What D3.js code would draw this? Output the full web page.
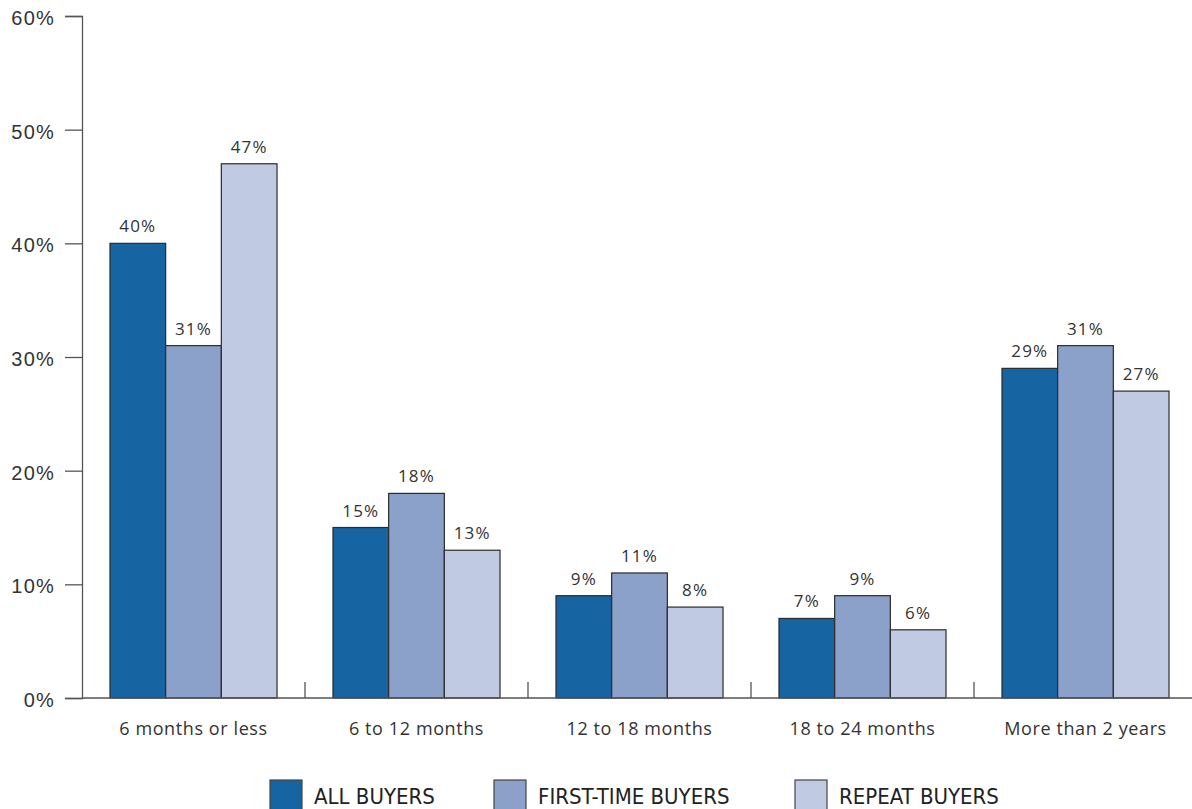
<!DOCTYPE html>
<html>
<head>
<meta charset="utf-8">
<script src="https://cdn.jsdelivr.net/npm/d3@7"></script>
<style>
  body { margin: 0; background: #fff; }
  svg { display: block; font-family: "Open Sans", "Noto Sans", sans-serif; }
</style>
</head>
<body>
<svg id="chart" width="1192" height="809"></svg>
<script>
// data
const categories = ["6 months or less", "6 to 12 months", "12 to 18 months", "18 to 24 months", "More than 2 years"];
const seriesNames = ["ALL BUYERS", "FIRST-TIME BUYERS", "REPEAT BUYERS"];
const allBuyers = [40, 15, 9, 7, 29];
const firstTime = [31, 18, 11, 9, 31];
const repeatBuyers = [47, 13, 8, 6, 27];
const yTicks = [0, 10, 20, 30, 40, 50, 60];

const colors = ["#1764a3", "#8ca1c9", "#c0cbe3"];
const series = [allBuyers, firstTime, repeatBuyers];

const svg = d3.select("#chart");
const margin = { left: 82, top: 16, bottom: 111 };
const plotRight = 1197;
const baseY = 809 - margin.bottom;

const x = d3.scaleBand().domain(categories).range([margin.left, plotRight]).paddingInner(0.251).paddingOuter(0.1255);
const xs = d3.scaleBand().domain(d3.range(series.length)).range([0, x.bandwidth()]);
const y = d3.scaleLinear().domain([0, 60]).range([baseY, margin.top]);

// y axis
const yAxis = svg.append("g")
  .attr("transform", `translate(${margin.left},0)`)
  .call(d3.axisLeft(y).tickValues(yTicks).tickSize(17).tickPadding(10).tickFormat(d => d + "%"));
yAxis.select(".domain").attr("stroke", "#555").attr("stroke-width", 1.3);
yAxis.selectAll(".tick line").attr("stroke", "#555").attr("stroke-width", 1.3);
yAxis.selectAll(".tick text")
  .attr("fill", "#333").attr("font-size", 20).attr("dy", "0.42em")
  .style("letter-spacing", "1.2px");

// category separators
const step = x.step();
const seps = d3.range(1, categories.length).map(i => margin.left + i * step);
svg.selectAll("line.sep").data(seps).join("line")
  .attr("class", "sep")
  .attr("x1", d => d).attr("x2", d => d)
  .attr("y1", baseY - 16).attr("y2", baseY)
  .attr("stroke", "#555").attr("stroke-width", 1.3);

// bars
const groups = svg.selectAll("g.grp").data(categories).join("g")
  .attr("class", "grp")
  .attr("transform", d => `translate(${x(d)},0)`);

groups.each(function (cat, ci) {
  const g = d3.select(this);
  series.forEach((s, si) => {
    const v = s[ci];
    g.append("rect")
      .attr("x", xs(si))
      .attr("y", y(v))
      .attr("width", xs.bandwidth())
      .attr("height", baseY - y(v))
      .attr("fill", colors[si])
      .attr("stroke", "#2b2b2b")
      .attr("stroke-width", 1.2);
    g.append("text")
      .attr("x", xs(si) + xs.bandwidth() / 2)
      .attr("y", y(v) - 11)
      .attr("text-anchor", "middle")
      .attr("font-size", 17)
      .attr("fill", "#333")
      .style("letter-spacing", "1.2px")
      .text(v + "%");
  });
});

// x baseline
svg.append("line")
  .attr("x1", margin.left).attr("x2", 1192)
  .attr("y1", baseY).attr("y2", baseY)
  .attr("stroke", "#555").attr("stroke-width", 1.3);

// category labels
svg.selectAll("text.cat").data(categories).join("text")
  .attr("class", "cat")
  .attr("x", d => x(d) + x.bandwidth() / 2)
  .attr("y", 735)
  .attr("text-anchor", "middle")
  .attr("font-size", 18)
  .attr("fill", "#333")
  .style("letter-spacing", "0.6px")
  .text(d => d);

// legend
const legendX = [270, 494, 795];
const legend = svg.selectAll("g.leg").data(seriesNames).join("g")
  .attr("class", "leg")
  .attr("transform", (d, i) => `translate(${legendX[i]},780)`);
legend.append("rect")
  .attr("width", 32).attr("height", 32)
  .attr("fill", (d, i) => colors[i])
  .attr("stroke", "#444").attr("stroke-width", 1.2);
legend.append("text")
  .attr("x", 44).attr("y", 24)
  .attr("font-size", 22)
  .attr("fill", "#222")
  .style("font-family", "'DejaVu Sans Condensed', 'Liberation Sans Narrow', sans-serif")
  .style("font-stretch", "condensed")
  .text(d => d);
</script>
</body>
</html>
